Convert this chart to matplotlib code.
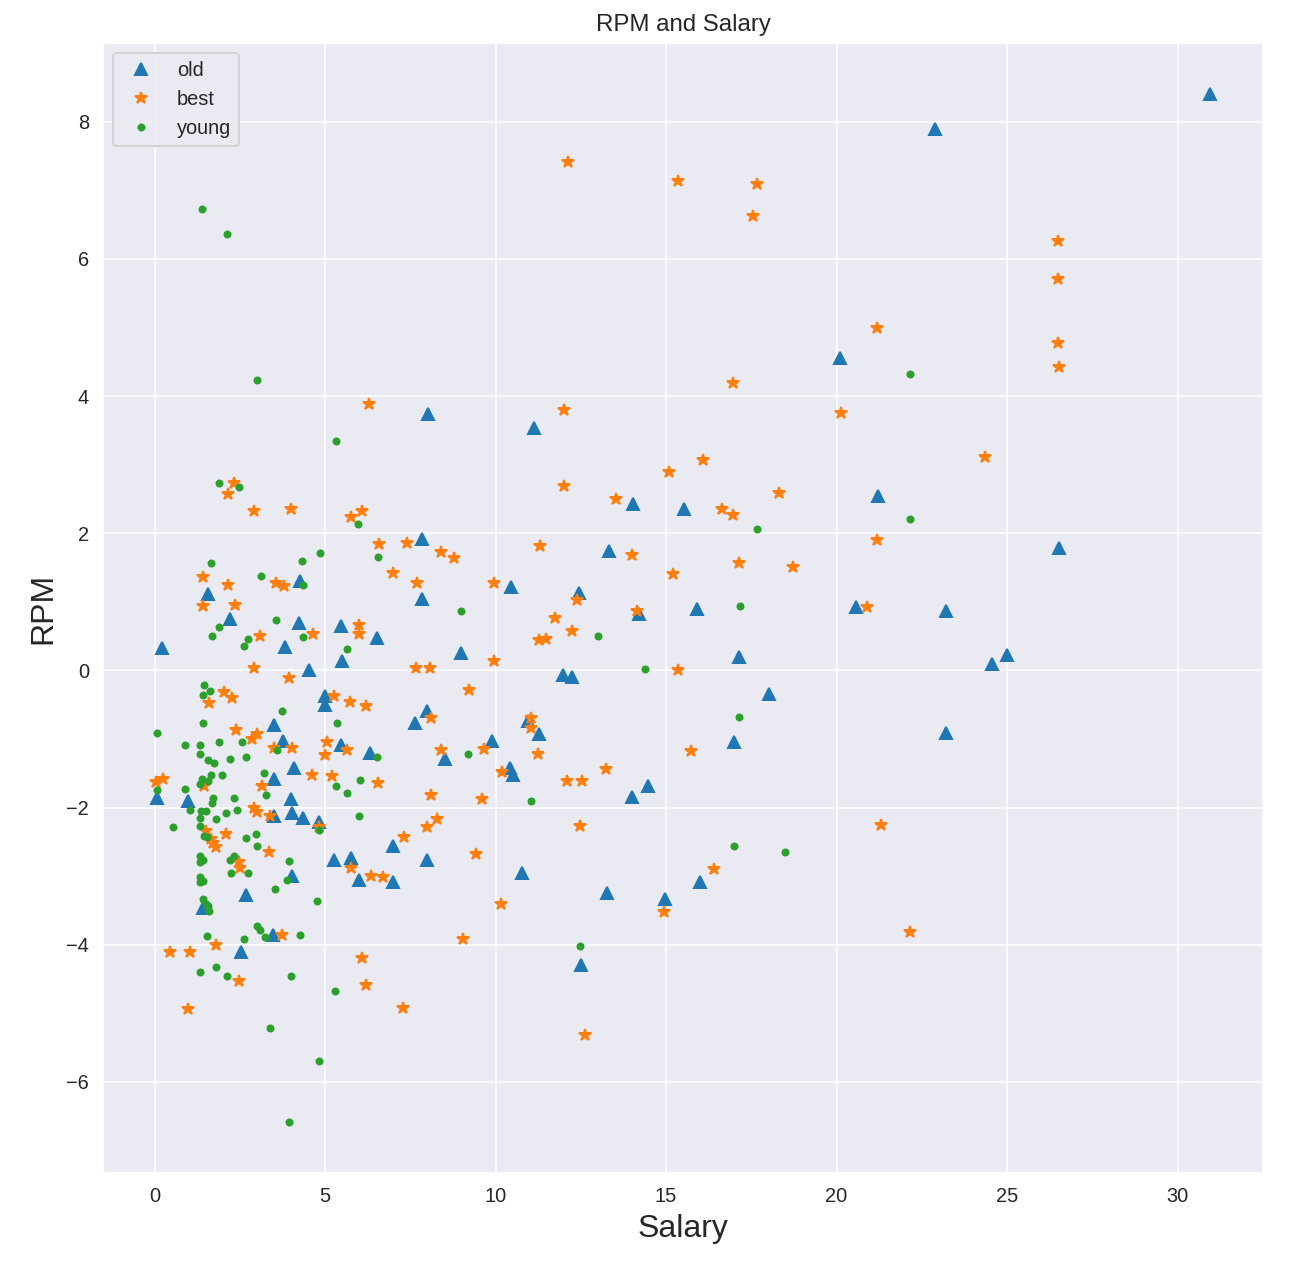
import matplotlib
matplotlib.use("Agg")
import matplotlib.pyplot as plt
import seaborn as sns

sns.set_style("darkgrid")
plt.rcParams['font.family'] = ['Liberation Sans', 'DejaVu Sans']

old_salary = [30.96, 22.9, 20.1, 8.01, 11.12, 21.2, 26.53, 14.03, 15.51, 13.32, 7.83, 10.45, 12.44, 7.83,
              14.2, 15.91, 20.58, 23.2, 24.56, 25.0, 17.13, 18.01, 11.98, 12.25, 23.2, 17.0, 11.27, 10.95,
              9.9, 10.42, 10.5, 14.01, 14.46, 10.76, 13.27, 14.98, 16.0, 12.49, 8.97, 7.62, 7.98, 8.52,
              7.98, 7.0, 6.99, 5.25, 5.76, 6.0, 5.46, 5.49, 6.52, 4.53, 5.0, 5.0, 5.47, 6.32, 4.25, 4.22,
              3.81, 3.51, 3.75, 4.08, 3.49, 4.0, 4.02, 3.49, 4.34, 4.83, 4.02, 2.67, 2.52, 3.47, 1.56,
              2.2, 0.22, 0.06, 0.98, 1.42]
old_rpm = [8.4, 7.9, 4.55, 3.74, 3.54, 2.55, 1.78, 2.42, 2.36, 1.74, 1.92, 1.21, 1.13, 1.04,
           0.82, 0.9, 0.92, 0.86, 0.1, 0.22, 0.19, -0.34, -0.07, -0.1, -0.91, -1.05, -0.93, -0.74,
           -1.03, -1.42, -1.52, -1.84, -1.68, -2.96, -3.25, -3.34, -3.09, -4.29, 0.26, -0.76, -0.59, -1.29,
           -2.77, -2.56, -3.09, -2.77, -2.73, -3.05, 0.65, 0.13, 0.47, 0.01, -0.38, -0.5, -1.09, -1.2, 1.31, 0.69,
           0.34, -0.79, -1.03, -1.42, -1.58, -1.88, -2.08, -2.13, -2.15, -2.21, -3.0, -3.28, -4.1, -3.86, 1.12,
           0.75, 0.32, -1.86, -1.91, -3.46]

best_salary = [26.5, 26.5, 21.19, 26.5, 26.53, 20.14, 24.35, 21.19, 20.88, 21.3, 22.15, 12.13, 15.35, 17.66,
               17.54, 6.28, 16.95, 12.0, 16.08, 15.08, 12.0, 18.32, 13.52, 16.64, 16.95, 11.3, 14.01, 17.13,
               18.73, 15.2, 12.4, 11.74, 14.16, 12.25, 11.28, 11.47, 15.35, 11.05, 11.05, 15.74, 11.25, 13.23,
               12.1, 12.53, 12.47, 16.39, 14.93, 12.61, 5.76, 6.08, 6.59, 7.39, 8.4, 8.79, 6.99, 7.69, 9.96,
               6.0, 6.0, 7.67, 8.06, 9.96, 9.23, 5.25, 5.74, 6.2, 8.09, 5.64, 5.06, 5.0, 8.4, 9.66, 10.19,
               6.56, 5.2, 8.1, 9.61, 8.27, 8.0, 7.32, 9.41, 5.76, 6.34, 6.69, 10.15, 9.03, 6.08, 6.2, 7.27,
               2.34, 2.16, 2.91, 4.01, 1.41, 2.16, 3.56, 3.78, 1.41, 2.35, 4.63, 3.08, 2.91, 3.93, 2.03, 2.27,
               1.59, 2.39, 2.99, 2.86, 3.49, 4.02, 4.61, 1.46, 0.03, 0.24, 3.15, 2.91, 3.0, 3.37, 4.81, 1.49,
               1.64, 2.08, 1.79, 1.71, 3.35, 2.47, 2.5, 3.74, 0.45, 1.03, 1.81, 2.47, 0.97]
best_rpm = [6.26, 5.71, 5.0, 4.78, 4.43, 3.75, 3.11, 1.9, 0.93, -2.25, -3.82, 7.42, 7.13, 7.09,
            6.62, 3.89, 4.19, 3.8, 3.07, 2.89, 2.69, 2.58, 2.5, 2.35, 2.26, 1.82, 1.69, 1.56,
            1.51, 1.41, 1.03, 0.77, 0.86, 0.57, 0.44, 0.46, 0.0, -0.69, -0.84, -1.18, -1.22, -1.44,
            -1.61, -1.61, -2.27, -2.89, -3.52, -5.31, 2.23, 2.32, 1.84, 1.86, 1.73, 1.64, 1.42, 1.27, 1.27,
            0.66, 0.53, 0.03, 0.04, 0.14, -0.28, -0.37, -0.46, -0.52, -0.69, -1.16, -1.05, -1.23, -1.16, -1.14, -1.48,
            -1.64, -1.54, -1.82, -1.87, -2.16, -2.29, -2.43, -2.68, -2.88, -3.0, -3.01, -3.4, -3.91, -4.2, -4.59, -4.92,
            2.73, 2.57, 2.32, 2.36, 1.36, 1.25, 1.28, 1.23, 0.94, 0.95, 0.53, 0.5, 0.04, -0.11, -0.32, -0.4,
            -0.48, -0.87, -0.93, -1.0, -1.13, -1.13, -1.53, -1.69, -1.63, -1.59, -1.68, -2.0, -2.06, -2.12, -2.29, -2.34,
            -2.46, -2.39, -2.58, -2.51, -2.65, -2.8, -2.88, -3.86, -4.1, -4.1, -4.0, -4.53, -4.94]

young_salary = [22.16, 22.16, 1.38, 2.13, 3.0, 5.33, 17.66, 17.17, 13.0, 14.37, 17.13, 11.03, 17.0, 18.5,
                12.47, 5.95, 6.56, 8.97, 5.64, 5.36, 6.52, 9.18, 6.03, 5.33, 5.64, 6.0, 5.28, 1.9, 2.47,
                1.64, 4.32, 4.84, 3.13, 4.35, 3.57, 1.9, 1.69, 2.73, 2.61, 4.35, 1.46, 1.61, 1.41, 3.72,
                1.42, 0.06, 0.89, 1.33, 1.9, 2.57, 3.59, 1.33, 1.56, 1.73, 2.2, 2.69, 3.22, 1.64, 1.4,
                1.56, 1.32, 1.98, 0.89, 0.06, 3.27, 1.71, 2.34, 1.67, 1.04, 2.42, 4.81, 1.35, 1.49, 1.33,
                2.08, 1.81, 0.54, 1.33, 1.44, 1.52, 2.69, 2.96, 2.99, 1.33, 1.42, 1.33, 2.32, 2.2, 3.93,
                2.25, 2.74, 1.33, 1.42, 1.33, 3.88, 3.52, 4.76, 1.42, 1.49, 1.57, 1.59, 3.0, 3.08, 1.52,
                2.61, 3.23, 4.27, 1.33, 1.81, 2.13, 4.01, 3.39, 4.81, 3.93]
young_rpm = [4.32, 2.21, 6.73, 6.37, 4.23, 3.34, 2.06, 0.94, 0.5, 0.02, -0.68, -1.91, -2.56, -2.65,
             -4.02, 2.14, 1.66, 0.87, 0.31, -0.76, -1.27, -1.22, -1.6, -1.69, -1.79, -2.12, -4.68, 2.74, 2.67,
             1.57, 1.59, 1.71, 1.37, 1.24, 0.74, 0.64, 0.5, 0.46, 0.35, 0.48, -0.22, -0.3, -0.36, -0.59,
             -0.76, -0.91, -1.09, -1.09, -1.04, -1.04, -1.16, -1.22, -1.3, -1.35, -1.29, -1.27, -1.5, -1.53, -1.59,
             -1.61, -1.66, -1.53, -1.73, -1.75, -1.82, -1.86, -1.86, -1.93, -2.03, -2.03, -2.33, -2.05, -2.05, -2.15,
             -2.08, -2.16, -2.29, -2.27, -2.42, -2.43, -2.45, -2.38, -2.56, -2.71, -2.76, -2.8, -2.71, -2.77, -2.78,
             -2.96, -2.96, -3.01, -3.07, -3.09, -3.05, -3.19, -3.36, -3.33, -3.4, -3.43, -3.51, -3.73, -3.78, -3.88,
             -3.91, -3.89, -3.86, -4.4, -4.33, -4.45, -4.46, -5.22, -5.69, -6.58]

fig = plt.figure(figsize=(1292 / 144, 1263 / 144), dpi=144)
ax = fig.add_axes([103 / 1292, 1 - 1173 / 1263, (1263 - 103) / 1292, (1173 - 43) / 1263])

ax.plot(old_salary, old_rpm, '^', label='old')
ax.plot(best_salary, best_rpm, '*', label='best')
ax.plot(young_salary, young_rpm, '.', label='young')

ax.set_title('RPM and Salary', fontsize=12)
ax.set_xlabel('Salary', fontsize=16)
ax.set_ylabel('RPM', fontsize=16)
ax.tick_params(labelsize=10)
ax.legend(loc='upper left', fontsize=10)

fig.savefig('out.png', dpi=144)
